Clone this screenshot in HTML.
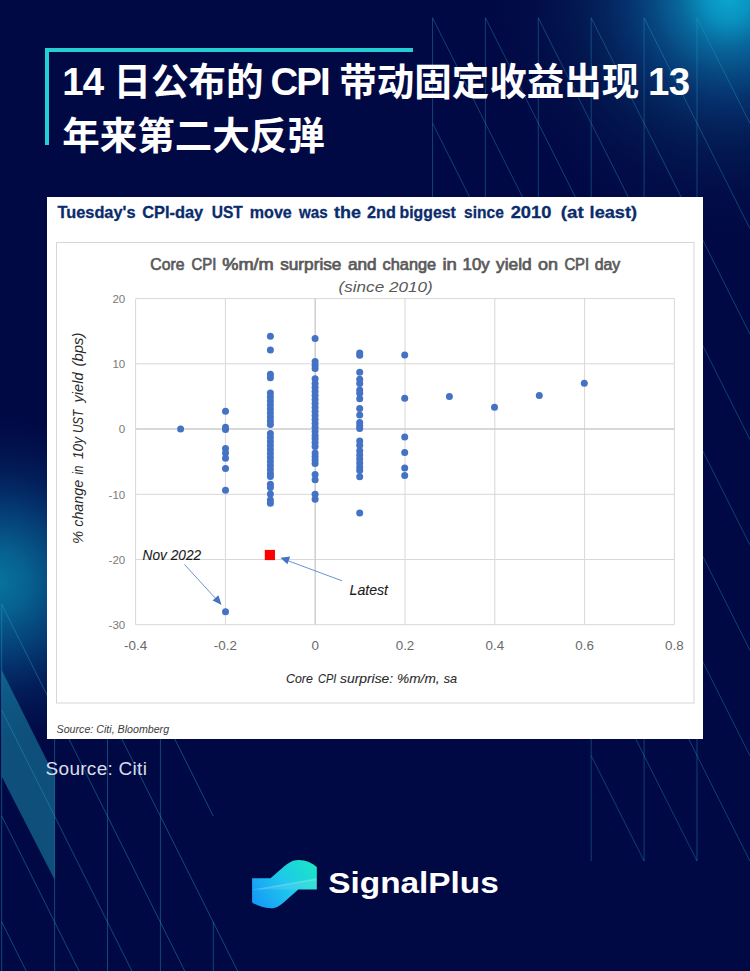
<!DOCTYPE html>
<html lang="zh-CN">
<head>
<meta charset="utf-8">
<title>SignalPlus</title>
<style>
html,body{margin:0;padding:0;}
body{width:750px;height:971px;overflow:hidden;background:#010944;position:relative;
 font-family:"Liberation Sans","Noto Sans CJK SC",sans-serif;}
#bg{position:absolute;left:0;top:0;width:750px;height:971px;display:block;}
.bracket{position:absolute;left:45px;top:48px;width:368px;height:97px;
 border-top:4px solid #23cfd3;border-left:4px solid #23cfd3;box-sizing:border-box;}
h1{position:absolute;left:62.2px;top:56px;margin:0;width:660px;
 font-size:37.5px;line-height:53.6px;font-weight:700;color:#fff;white-space:nowrap;}
h1 span{font-size:38.4px;line-height:1;}
h1 .d{letter-spacing:-0.7px;}
h1 .l{letter-spacing:-1.87px;margin-left:-1.8px;margin-right:1.6px;}
h1 .e{margin-left:-1.2px;}
.card{position:absolute;left:47px;top:197px;width:656px;height:542px;background:#fff;}
.card svg{position:absolute;left:-47px;top:-197px;width:750px;height:971px;}
.src{position:absolute;left:45.6px;top:757.9px;margin:0;font-size:19px;line-height:22px;letter-spacing:0.28px;color:#d9ddea;}
.logo{position:absolute;left:0;top:0;width:750px;height:971px;}
</style>
</head>
<body>
<svg id="bg" viewBox="0 0 750 971">
 <defs>
  <radialGradient id="g1" cx="729" cy="-2" r="238" gradientUnits="userSpaceOnUse">
   <stop offset="0" stop-color="#0ba6cd"/>
   <stop offset="0.09" stop-color="#0994c0"/>
   <stop offset="0.21" stop-color="#08669b"/>
   <stop offset="0.32" stop-color="#074881"/>
   <stop offset="0.43" stop-color="#05316c"/>
   <stop offset="0.53" stop-color="#04235d"/>
   <stop offset="0.64" stop-color="#031850"/>
   <stop offset="0.8" stop-color="#020e48"/>
   <stop offset="1" stop-color="#010944"/>
  </radialGradient>
  <radialGradient id="g2" cx="-3" cy="582" r="175" gradientUnits="userSpaceOnUse">
   <stop offset="0" stop-color="#08739f"/>
   <stop offset="0.18" stop-color="#07618f"/>
   <stop offset="0.4" stop-color="#05437a" stop-opacity="0.92"/>
   <stop offset="0.62" stop-color="#032662" stop-opacity="0.75"/>
   <stop offset="0.82" stop-color="#021552" stop-opacity="0.5"/>
   <stop offset="1" stop-color="#010944" stop-opacity="0"/>
  </radialGradient>
 </defs>
 <rect width="750" height="971" fill="#010944"/>
 <rect width="750" height="971" fill="url(#g1)"/>
 <rect width="750" height="971" fill="url(#g2)"/>
 <polygon points="1.7,670 54.6,776 54.6,879.7 1.7,776.6" fill="#1b95b4" fill-opacity="0.5"/>
 <path d="M432.5 17.8L432.5 228.6 M485.4 17.8L485.4 228.6 M538.3 17.8L538.3 228.6 M591.2 17.8L591.2 861.0 M644.1 17.8L644.1 861.0 M697.0 17.8L697.0 861.0 M432.5 17.8L485.4 123.2 M485.4 17.8L538.3 123.2 M538.3 17.8L591.2 123.2 M591.2 17.8L644.1 123.2 M644.1 17.8L697.0 123.2 M697.0 17.8L749.9 123.2 M432.5 123.2L485.4 228.6 M485.4 123.2L538.3 228.6 M538.3 123.2L591.2 228.6 M591.2 123.2L644.1 228.6 M644.1 123.2L697.0 228.6 M697.0 123.2L749.9 228.6 M591.2 228.6L644.1 334.0 M644.1 228.6L697.0 334.0 M697.0 228.6L749.9 334.0 M591.2 334.0L644.1 439.4 M644.1 334.0L697.0 439.4 M697.0 334.0L749.9 439.4 M591.2 439.4L644.1 544.8 M644.1 439.4L697.0 544.8 M697.0 439.4L749.9 544.8 M591.2 544.8L644.1 650.2 M644.1 544.8L697.0 650.2 M697.0 544.8L749.9 650.2 M591.2 650.2L644.1 755.6 M644.1 650.2L697.0 755.6 M697.0 650.2L749.9 755.6 M591.2 755.6L644.1 861.0 M644.1 755.6L697.0 861.0 M697.0 755.6L749.9 861.0" stroke="#2aa3c9" stroke-opacity="0.4" stroke-width="0.9" fill="none"/>
 <path d="M1.7 604.2L1.7 971.0 M54.6 604.2L54.6 971.0 M107.5 604.2L107.5 971.0 M160.4 604.2L160.4 971.0 M213.3 921.9L213.3 971.0 M1.7 604.2L243.3 1088.4 M1.7 710.1L160.4 1028.1 M1.7 816.0L107.5 1028.0 M1.7 921.9L54.6 1027.9 M54.6 604.2L243.3 982.4 M107.5 604.2L213.3 816.2" stroke="#2aa3c9" stroke-opacity="0.45" stroke-width="0.9" fill="none"/>
</svg>

<div class="bracket"></div>
<h1><span class="d">14 </span>日公布的<span class="l"> CPI </span>带动固定收益出现<span class="d e"> 13</span><br>年来第二大反弹</h1>

<div class="card">
<svg viewBox="0 0 750 971" font-family="'Liberation Sans',sans-serif">
 <g font-size="16.5" font-weight="700" fill="#0a2c6c" stroke="#0a2c6c" stroke-width="0.3"><text x="57.5" y="218.3" textLength="78.0" lengthAdjust="spacingAndGlyphs">Tuesday's</text><text x="142.2" y="218.3" textLength="61.0" lengthAdjust="spacingAndGlyphs">CPI-day</text><text x="211.7" y="218.3" textLength="31.1" lengthAdjust="spacingAndGlyphs">UST</text><text x="249.8" y="218.3" textLength="42.0" lengthAdjust="spacingAndGlyphs">move</text><text x="299.0" y="218.3" textLength="28.7" lengthAdjust="spacingAndGlyphs">was</text><text x="334.0" y="218.3" textLength="26.9" lengthAdjust="spacingAndGlyphs">the</text><text x="367.1" y="218.3" textLength="28.8" lengthAdjust="spacingAndGlyphs">2nd</text><text x="399.6" y="218.3" textLength="56.1" lengthAdjust="spacingAndGlyphs">biggest</text><text x="464.1" y="218.3" textLength="39.7" lengthAdjust="spacingAndGlyphs">since</text><text x="510.7" y="218.3" textLength="40.7" lengthAdjust="spacingAndGlyphs">2010</text><text x="560.8" y="218.3" textLength="22.9" lengthAdjust="spacingAndGlyphs">(at</text><text x="589.6" y="218.3" textLength="47.4" lengthAdjust="spacingAndGlyphs">least)</text></g>
 <rect x="56.5" y="242.5" width="637.5" height="460.5" fill="#fff" stroke="#d6d6d6" stroke-width="1"/>
 <g font-size="16" fill="#5a5a5a" stroke="#5a5a5a" stroke-width="0.7"><text x="150.3" y="270.2" textLength="34.1" lengthAdjust="spacingAndGlyphs">Core</text><text x="191.5" y="270.2" textLength="24.8" lengthAdjust="spacingAndGlyphs">CPI</text><text x="222.2" y="270.2" textLength="51.6" lengthAdjust="spacingAndGlyphs">%m/m</text><text x="280.2" y="270.2" textLength="61.2" lengthAdjust="spacingAndGlyphs">surprise</text><text x="347.9" y="270.2" textLength="28.7" lengthAdjust="spacingAndGlyphs">and</text><text x="382.6" y="270.2" textLength="53.6" lengthAdjust="spacingAndGlyphs">change</text><text x="442.5" y="270.2" textLength="14.4" lengthAdjust="spacingAndGlyphs">in</text><text x="462.6" y="270.2" textLength="27.0" lengthAdjust="spacingAndGlyphs">10y</text><text x="496.0" y="270.2" textLength="35.6" lengthAdjust="spacingAndGlyphs">yield</text><text x="538.0" y="270.2" textLength="20.0" lengthAdjust="spacingAndGlyphs">on</text><text x="564.4" y="270.2" textLength="24.7" lengthAdjust="spacingAndGlyphs">CPI</text><text x="594.7" y="270.2" textLength="25.6" lengthAdjust="spacingAndGlyphs">day</text></g>
 <text x="338.6" y="292.2" font-size="14" font-style="italic" fill="#595959" textLength="94" lengthAdjust="spacingAndGlyphs">(since 2010)</text>
 <g stroke="#d8d8d8" stroke-width="1" fill="none"><line x1="135.6" y1="298.6" x2="135.6" y2="624.7"/><line x1="225.4" y1="298.6" x2="225.4" y2="624.7"/><line x1="315.2" y1="298.6" x2="315.2" y2="624.7"/><line x1="405.0" y1="298.6" x2="405.0" y2="624.7"/><line x1="494.8" y1="298.6" x2="494.8" y2="624.7"/><line x1="584.6" y1="298.6" x2="584.6" y2="624.7"/><line x1="674.4" y1="298.6" x2="674.4" y2="624.7"/><line x1="135.6" y1="298.6" x2="674.4" y2="298.6"/><line x1="135.6" y1="363.8" x2="674.4" y2="363.8"/><line x1="135.6" y1="429.0" x2="674.4" y2="429.0"/><line x1="135.6" y1="494.3" x2="674.4" y2="494.3"/><line x1="135.6" y1="559.5" x2="674.4" y2="559.5"/><line x1="135.6" y1="624.7" x2="674.4" y2="624.7"/></g>
 <g stroke="#c6c6c6" stroke-width="1" fill="none"><line x1="315.2" y1="298.6" x2="315.2" y2="624.7"/><line x1="135.6" y1="429.0" x2="674.4" y2="429.0"/></g>
 <g font-size="11.5" fill="#7a7a7a"><text x="125.2" y="302.8" text-anchor="end">20</text><text x="125.2" y="368.0" text-anchor="end">10</text><text x="125.2" y="433.2" text-anchor="end">0</text><text x="125.2" y="498.5" text-anchor="end">-10</text><text x="125.2" y="563.7" text-anchor="end">-20</text><text x="125.2" y="628.9" text-anchor="end">-30</text></g>
 <g font-size="13.4" fill="#6a6a6a"><text x="135.6" y="649.7" text-anchor="middle">-0.4</text><text x="225.4" y="649.7" text-anchor="middle">-0.2</text><text x="315.2" y="649.7" text-anchor="middle">0</text><text x="405.0" y="649.7" text-anchor="middle">0.2</text><text x="494.8" y="649.7" text-anchor="middle">0.4</text><text x="584.6" y="649.7" text-anchor="middle">0.6</text><text x="674.4" y="649.7" text-anchor="middle">0.8</text></g>
 <g transform="translate(83.2 0) rotate(-90)" font-size="14.1" font-style="italic" fill="#2a2a2a"><text x="-543.9" y="0.0" textLength="13.2" lengthAdjust="spacingAndGlyphs">%</text><text x="-526.7" y="0.0" textLength="46.8" lengthAdjust="spacingAndGlyphs">change</text><text x="-474.6" y="0.0" textLength="8.9" lengthAdjust="spacingAndGlyphs">in</text><text x="-459.1" y="0.0" textLength="22.2" lengthAdjust="spacingAndGlyphs">10y</text><text x="-433.1" y="0.0" textLength="23.3" lengthAdjust="spacingAndGlyphs">UST</text><text x="-402.5" y="0.0" textLength="30.1" lengthAdjust="spacingAndGlyphs">yield</text><text x="-366.6" y="0.0" textLength="34.1" lengthAdjust="spacingAndGlyphs">(bps)</text></g>
 <g font-size="12.8" font-style="italic" fill="#2a2a2a" stroke="#2a2a2a" stroke-width="0.1"><text x="286.0" y="683.3" textLength="26.8" lengthAdjust="spacingAndGlyphs">Core</text><text x="318.0" y="683.3" textLength="18.3" lengthAdjust="spacingAndGlyphs">CPI</text><text x="340.0" y="683.3" textLength="53.2" lengthAdjust="spacingAndGlyphs">surprise:</text><text x="397.0" y="683.3" textLength="42.6" lengthAdjust="spacingAndGlyphs">%m/m,</text><text x="443.7" y="683.3" textLength="13.4" lengthAdjust="spacingAndGlyphs">sa</text></g>
 <g fill="#4472c4"><circle cx="180.6" cy="429.0" r="3.5"/><circle cx="225.5" cy="411.3" r="3.5"/><circle cx="225.5" cy="427.3" r="3.5"/><circle cx="225.5" cy="429.6" r="3.5"/><circle cx="225.5" cy="448.5" r="3.5"/><circle cx="225.5" cy="453.0" r="3.5"/><circle cx="225.5" cy="458.3" r="3.5"/><circle cx="225.5" cy="468.4" r="3.5"/><circle cx="225.5" cy="490.3" r="3.5"/><circle cx="225.5" cy="611.8" r="3.5"/><circle cx="270.4" cy="336.2" r="3.5"/><circle cx="270.4" cy="350.0" r="3.5"/><circle cx="270.4" cy="374.3" r="3.5"/><circle cx="270.4" cy="377.7" r="3.5"/><circle cx="270.4" cy="392.9" r="3.5"/><circle cx="270.4" cy="397.0" r="3.5"/><circle cx="270.4" cy="401.0" r="3.5"/><circle cx="270.4" cy="405.0" r="3.5"/><circle cx="270.4" cy="409.0" r="3.5"/><circle cx="270.4" cy="413.0" r="3.5"/><circle cx="270.4" cy="417.0" r="3.5"/><circle cx="270.4" cy="421.0" r="3.5"/><circle cx="270.4" cy="424.6" r="3.5"/><circle cx="270.4" cy="433.6" r="3.5"/><circle cx="270.4" cy="437.6" r="3.5"/><circle cx="270.4" cy="441.6" r="3.5"/><circle cx="270.4" cy="445.6" r="3.5"/><circle cx="270.4" cy="449.6" r="3.5"/><circle cx="270.4" cy="453.6" r="3.5"/><circle cx="270.4" cy="457.6" r="3.5"/><circle cx="270.4" cy="461.6" r="3.5"/><circle cx="270.4" cy="465.6" r="3.5"/><circle cx="270.4" cy="469.6" r="3.5"/><circle cx="270.4" cy="473.6" r="3.5"/><circle cx="270.4" cy="476.6" r="3.5"/><circle cx="270.4" cy="484.2" r="3.5"/><circle cx="270.4" cy="487.6" r="3.5"/><circle cx="270.4" cy="494.0" r="3.5"/><circle cx="270.4" cy="500.0" r="3.5"/><circle cx="270.4" cy="503.3" r="3.5"/><circle cx="315.1" cy="338.6" r="3.5"/><circle cx="315.1" cy="361.5" r="3.5"/><circle cx="315.1" cy="365.2" r="3.5"/><circle cx="315.1" cy="368.4" r="3.5"/><circle cx="315.1" cy="378.8" r="3.5"/><circle cx="315.1" cy="383.6" r="3.5"/><circle cx="315.1" cy="387.6" r="3.5"/><circle cx="315.1" cy="391.6" r="3.5"/><circle cx="315.1" cy="395.6" r="3.5"/><circle cx="315.1" cy="399.6" r="3.5"/><circle cx="315.1" cy="403.6" r="3.5"/><circle cx="315.1" cy="407.6" r="3.5"/><circle cx="315.1" cy="411.6" r="3.5"/><circle cx="315.1" cy="415.6" r="3.5"/><circle cx="315.1" cy="419.6" r="3.5"/><circle cx="315.1" cy="423.6" r="3.5"/><circle cx="315.1" cy="427.6" r="3.5"/><circle cx="315.1" cy="431.6" r="3.5"/><circle cx="315.1" cy="435.5" r="3.5"/><circle cx="315.1" cy="438.8" r="3.5"/><circle cx="315.1" cy="442.6" r="3.5"/><circle cx="315.1" cy="446.4" r="3.5"/><circle cx="315.1" cy="453.0" r="3.5"/><circle cx="315.1" cy="456.5" r="3.5"/><circle cx="315.1" cy="460.0" r="3.5"/><circle cx="315.1" cy="463.6" r="3.5"/><circle cx="315.1" cy="474.6" r="3.5"/><circle cx="315.1" cy="479.8" r="3.5"/><circle cx="315.1" cy="494.2" r="3.5"/><circle cx="315.1" cy="499.2" r="3.5"/><circle cx="359.7" cy="353.0" r="3.5"/><circle cx="359.7" cy="355.2" r="3.5"/><circle cx="359.7" cy="372.3" r="3.5"/><circle cx="359.7" cy="379.3" r="3.5"/><circle cx="359.7" cy="383.6" r="3.5"/><circle cx="359.7" cy="390.1" r="3.5"/><circle cx="359.7" cy="393.3" r="3.5"/><circle cx="359.7" cy="398.7" r="3.5"/><circle cx="359.7" cy="408.5" r="3.5"/><circle cx="359.7" cy="415.0" r="3.5"/><circle cx="359.7" cy="422.5" r="3.5"/><circle cx="359.7" cy="425.8" r="3.5"/><circle cx="359.7" cy="428.6" r="3.5"/><circle cx="359.7" cy="440.9" r="3.5"/><circle cx="359.7" cy="445.3" r="3.5"/><circle cx="359.7" cy="450.7" r="3.5"/><circle cx="359.7" cy="455.0" r="3.5"/><circle cx="359.7" cy="459.0" r="3.5"/><circle cx="359.7" cy="463.0" r="3.5"/><circle cx="359.7" cy="467.0" r="3.5"/><circle cx="359.7" cy="470.5" r="3.5"/><circle cx="359.7" cy="476.7" r="3.5"/><circle cx="359.7" cy="513.0" r="3.5"/><circle cx="404.7" cy="355.0" r="3.5"/><circle cx="404.7" cy="398.3" r="3.5"/><circle cx="404.7" cy="437.0" r="3.5"/><circle cx="404.7" cy="452.4" r="3.5"/><circle cx="404.7" cy="468.0" r="3.5"/><circle cx="404.7" cy="475.6" r="3.5"/><circle cx="449.4" cy="396.5" r="3.5"/><circle cx="494.5" cy="407.2" r="3.5"/><circle cx="539.3" cy="395.5" r="3.5"/><circle cx="584.3" cy="383.2" r="3.5"/></g>
 <rect x="264.8" y="549.9" width="10.2" height="10.2" fill="#ff0000"/>
 <g stroke="#5b84cc" stroke-width="0.9" fill="#4472c4">
  <line x1="184.4" y1="564.4" x2="217" y2="600"/>
  <polygon points="221.6,605 212.6,600.6 218.4,595.2" stroke="none"/>
  <line x1="342" y1="580.8" x2="286" y2="560"/>
  <polygon points="280.4,557.8 290.2,556.6 287.4,564.2" stroke="none"/>
 </g>
 <text x="142.6" y="559.8" font-size="13.9" font-style="italic" fill="#1a1a1a" stroke="#1a1a1a" stroke-width="0.1" textLength="58.6" lengthAdjust="spacingAndGlyphs">Nov 2022</text>
 <text x="349.6" y="594.9" font-size="13.9" font-style="italic" fill="#1a1a1a" stroke="#1a1a1a" stroke-width="0.1" textLength="38.4" lengthAdjust="spacingAndGlyphs">Latest</text>
 <text x="56.6" y="733.4" font-size="10.7" font-style="italic" fill="#3c3c3c" textLength="112.5" lengthAdjust="spacingAndGlyphs">Source: Citi, Bloomberg</text>
</svg>
</div>

<p class="src">Source: Citi</p>

<svg class="logo" viewBox="0 0 750 971">
 <defs>
  <linearGradient id="lg" x1="253" y1="906" x2="316" y2="862" gradientUnits="userSpaceOnUse">
   <stop offset="0" stop-color="#1496f7"/>
   <stop offset="0.5" stop-color="#20c6ee"/>
   <stop offset="1" stop-color="#1feac5"/>
  </linearGradient>
  <clipPath id="lc"><path d="M252.1 878.2 L270.5 878.2 L284 866.6 C288.5 862.8 292.5 859.9 298.5 859.9 C306 859.9 312.5 863.2 316.8 866.9 L316.8 889.5 L298.3 889.5 L285 901.2 C280.5 905.2 276.8 908.3 270.7 908.3 C263.5 908.3 256.8 905.6 252.1 902.4 Z"/></clipPath>
 </defs>
 <g clip-path="url(#lc)">
  <rect x="250" y="858" width="70" height="52" fill="url(#lg)"/>
  <polygon points="252.1,889.5 316.8,878.2 316.8,889.5" fill="#ffffff" fill-opacity="0.10"/>
  <polygon points="252.1,889.5 316.8,878.2 316.8,880.2 262,889.5" fill="#ffffff" fill-opacity="0.14"/>
  <rect x="270.5" y="859" width="47" height="19.2" fill="#00d8c0" fill-opacity="0.10"/>
 </g>
 <text x="328.3" y="893" font-family="'Liberation Sans',sans-serif" font-size="29.3" font-weight="700" fill="#fff" textLength="170.5" lengthAdjust="spacingAndGlyphs">SignalPlus</text>
</svg>
</body>
</html>
